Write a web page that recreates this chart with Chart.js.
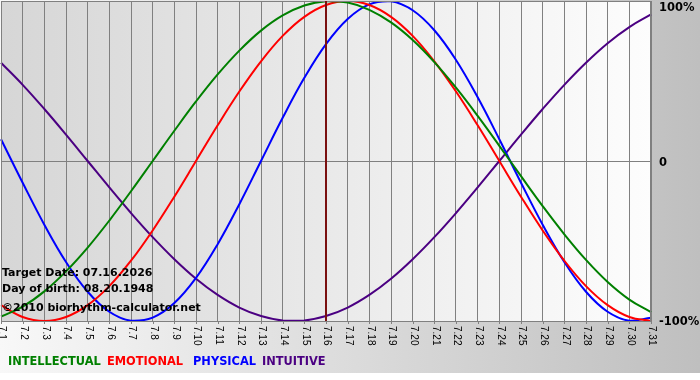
<!DOCTYPE html>
<html>
<head>
<meta charset="utf-8">
<script src="https://cdn.jsdelivr.net/npm/chart.js@4/dist/chart.umd.min.js"></script>
<style>
html,body{margin:0;padding:0;background:#fff;}
#wrap{width:700px;height:380px;position:relative;}
</style>
</head>
<body>
<div id="wrap"><canvas id="c" width="700" height="380"></canvas></div>
<script>
const labels = ['7.1','7.2','7.3','7.4','7.5','7.6','7.7','7.8','7.9','7.10','7.11','7.12','7.13','7.14','7.15','7.16','7.17','7.18','7.19','7.20','7.21','7.22','7.23','7.24','7.25','7.26','7.27','7.28','7.29','7.30','7.31'];
const intellectual = [-97.2,-91.0,-81.5,-69.0,-54.1,-37.2,-18.9,0,18.9,37.2,54.1,69.0,81.5,91.0,97.2,99.9,99.0,94.5,86.6,75.6,61.8,45.8,28.2,9.5,-9.5,-28.2,-45.8,-61.8,-75.6,-86.6,-94.5];
const emotional = [-90.1,-97.5,-100,-97.5,-90.1,-78.2,-62.3,-43.4,-22.3,0,22.3,43.4,62.3,78.2,90.1,97.5,100,97.5,90.1,78.2,62.3,43.4,22.3,0,-22.3,-43.4,-62.3,-78.2,-90.1,-97.5,-100];
const physical = [13.6,-13.6,-39.8,-63.1,-81.7,-94.2,-99.8,-97.9,-88.8,-73.1,-52.0,-27.0,0,27.0,52.0,73.1,88.8,97.9,99.8,94.2,81.7,63.1,39.8,13.6,-13.6,-39.8,-63.1,-81.7,-94.2,-99.8,-97.9];
const intuitive = [61.4,47.6,32.5,16.5,0,-16.5,-32.5,-47.6,-61.4,-73.6,-83.7,-91.6,-96.9,-99.7,-99.7,-96.9,-91.6,-83.7,-73.6,-61.4,-47.6,-32.5,-16.5,0,16.5,32.5,47.6,61.4,73.6,83.7,91.6];
const seriesNames = ['INTELLECTUAL','EMOTIONAL','PHYSICAL','INTUITIVE'];
const seriesColors = ['#008000','#ff0000','#0000ff','#4b0082'];
const yTickLabels = ['100%','0','-100%'];
const yTickValues = [100,0,-100];
const targetLabel = '7.16';
const infoLines = ['Target Date: 07.16.2026','Day of birth: 08.20.1948','\u00a92010 biorhythm-calculator.net'];

const FONT = '"DejaVu Sans", Verdana, sans-serif';
const legendX = [8, 107, 193, 262];

const decor = {
  id: 'decor',
  beforeDraw(chart) {
    const ctx = chart.ctx, a = chart.chartArea;
    ctx.save();
    ctx.fillStyle = '#ffffff';
    ctx.fillRect(0, 0, 700, 380);
    let g = ctx.createLinearGradient(0, 0, 700, 0);
    g.addColorStop(0, '#f8f8f8');
    g.addColorStop(1, '#bfbfbf');
    ctx.fillStyle = g;
    ctx.fillRect(0, 0, 700, 373);
    g = ctx.createLinearGradient(a.left, 0, a.right, 0);
    g.addColorStop(0, '#d6d6d6');
    g.addColorStop(1, '#fdfdfd');
    ctx.fillStyle = g;
    ctx.fillRect(a.left, a.top, a.right - a.left, a.bottom - a.top);
    ctx.restore();
  },
  afterDraw(chart) {
    const ctx = chart.ctx, a = chart.chartArea;
    const xs = chart.scales.x, ys = chart.scales.y;
    ctx.save();
    ctx.strokeStyle = '#808080';
    ctx.lineWidth = 1;
    ctx.strokeRect(a.left + 0.5, a.top + 0.5, a.right - a.left - 1, a.bottom - a.top);
    labels.forEach((l, i) => {
      const x = Math.round(xs.getPixelForValue(i)) + 0.5;
      ctx.beginPath(); ctx.moveTo(x, a.bottom); ctx.lineTo(x, a.bottom + 3); ctx.stroke();
    });
    const ti = labels.indexOf(targetLabel);
    const tx = xs.getPixelForValue(ti);
    ctx.strokeStyle = '#7a1010';
    ctx.lineWidth = 2;
    ctx.beginPath(); ctx.moveTo(tx, a.top); ctx.lineTo(tx, a.bottom); ctx.stroke();
    ctx.fillStyle = '#000';
    ctx.font = '10px "Liberation Sans", Arial, sans-serif';
    ctx.textAlign = 'left';
    ctx.textBaseline = 'middle';
    labels.forEach((l, i) => {
      const x = xs.getPixelForValue(i);
      ctx.save();
      ctx.translate(x + 1, a.bottom + 5);
      ctx.rotate(Math.PI / 2);
      ctx.fillText(l, 0, 0);
      ctx.restore();
    });
    ctx.font = 'bold 11.5px ' + FONT;
    ctx.textBaseline = 'middle';
    yTickValues.forEach((v, i) => {
      let y = ys.getPixelForValue(v);
      if (v === 100) y += 7;
      if (v === 0) y += 2;
      if (v === -100) y += 1;
      ctx.fillText(yTickLabels[i], a.right + 8, y);
    });
    ctx.font = 'bold 11px ' + FONT;
    ctx.textBaseline = 'alphabetic';
    ctx.fillText(infoLines[0], 2, 276);
    ctx.fillText(infoLines[1], 2, 292);
    ctx.fillText(infoLines[2], 2, 311);
    ctx.font = 'bold 11.4px ' + FONT;
    ctx.textBaseline = 'middle';
    seriesNames.forEach((n, i) => {
      ctx.fillStyle = seriesColors[i];
      ctx.fillText(n, legendX[i], 362);
    });
    ctx.restore();
  }
};

const seriesData = [intellectual, emotional, physical, intuitive];
new Chart(document.getElementById('c'), {
  type: 'line',
  data: {
    labels: labels,
    datasets: seriesNames.map((n, i) => ({
      label: n,
      data: seriesData[i],
      borderColor: seriesColors[i],
      borderWidth: 2,
      pointRadius: 0,
      tension: 0.4,
      fill: false
    }))
  },
  options: {
    responsive: false,
    animation: false,
    layout: { padding: { left: 1, top: 1, right: 49, bottom: 59 } },
    plugins: { legend: { display: false }, tooltip: { enabled: false } },
    scales: {
      x: {
        offset: false,
        ticks: { display: false },
        grid: { color: '#808080', lineWidth: 1, drawTicks: false },
        border: { display: false }
      },
      y: {
        min: -100, max: 100,
        ticks: { display: false, stepSize: 100 },
        grid: { color: c => c.tick && c.tick.value === 0 ? '#808080' : 'rgba(0,0,0,0)', drawTicks: false },
        border: { display: false }
      }
    }
  },
  plugins: [decor]
});
</script>
</body>
</html>
